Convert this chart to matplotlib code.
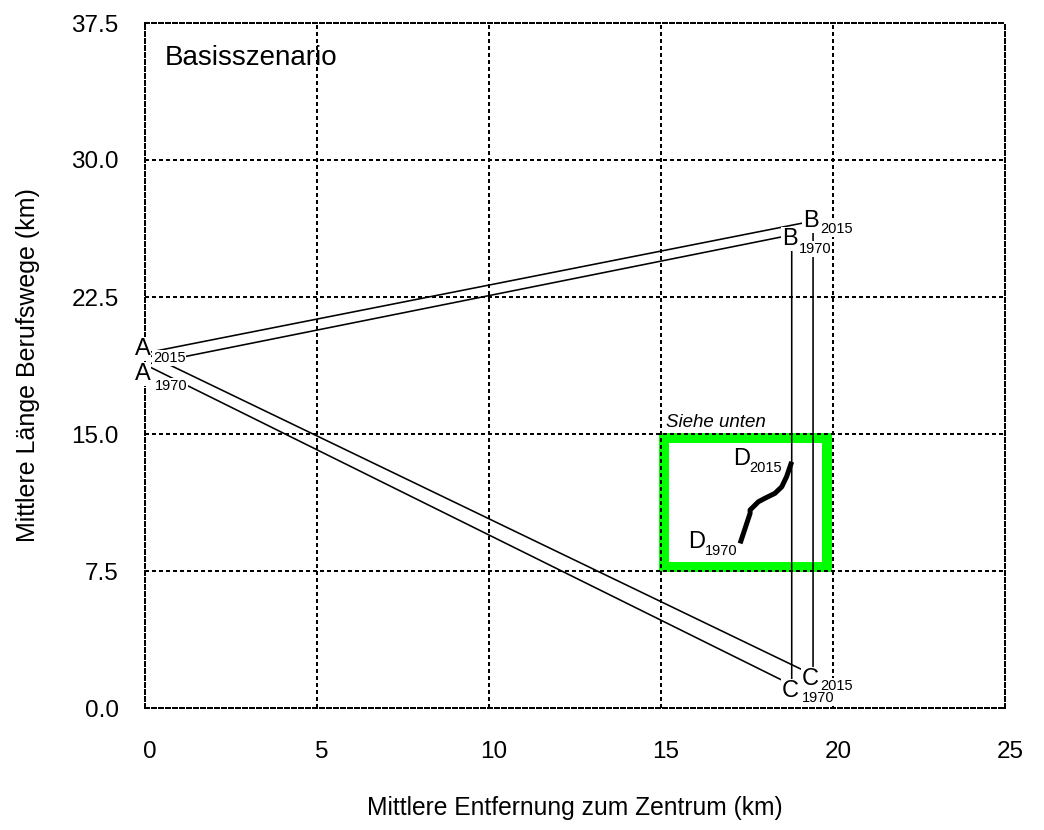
import matplotlib
matplotlib.use("Agg")
import matplotlib.pyplot as plt
from matplotlib.patches import Rectangle
from matplotlib.transforms import ScaledTranslation

plt.rcParams['font.family'] = ['Liberation Sans', 'DejaVu Sans']

# ---- data ----
years = ["1970", "2015"]
# triangle vertices A, B, C per year (x = mean distance to centre, y = mean commute length)
tri_x_1970 = [0.0, 18.8, 18.8]
tri_y_1970 = [18.8, 25.9, 1.26]
tri_x_2015 = [0.0, 19.42, 19.42]
tri_y_2015 = [19.43, 26.66, 1.81]
vertex_names = ["A", "B", "C"]

# D path from 1970 to 2015
d_x = [17.30, 17.59, 17.59, 17.83, 18.02, 18.31, 18.51, 18.65, 18.80]
d_y = [9.01, 10.66, 10.84, 11.29, 11.48, 11.75, 12.11, 12.66, 13.48]

# zoom box ("Siehe unten")
box_x = [15.1, 19.82]
box_y = [7.72, 14.78]

x_ticks = [0, 5, 10, 15, 20, 25]
y_ticks = [0.0, 7.5, 15.0, 22.5, 30.0, 37.5]
x_ticklabels = ["0", "5", "10", "15", "20", "25"]
y_ticklabels = ["0.0", "7.5", "15.0", "22.5", "30.0", "37.5"]

# ---- figure ----
W, H = 1044, 830
fig = plt.figure(figsize=(W / 100, H / 100), dpi=100)
ax = fig.add_axes([145 / W, 1 - 708 / H, 860 / W, 685 / H])
ax.set_xlim(0, 25)
ax.set_ylim(0, 37.5)

dot = (0, (1.5, 1.5))
ax.set_xticks(x_ticks)
ax.set_yticks(y_ticks)
ax.set_xticklabels(x_ticklabels)
ax.set_yticklabels(y_ticklabels)
ax.tick_params(length=0, labelsize=17.5)
ax.tick_params(axis='x', pad=24)
ax.tick_params(axis='y', pad=19)
for lab in ax.get_xticklabels():
    lab.set_transform(lab.get_transform() + ScaledTranslation(5 / 100, 0, fig.dpi_scale_trans))
ax.grid(True, color='black', linestyle=dot, linewidth=1.5, zorder=1.5, antialiased=False)
ax.set_axisbelow('line')
for sp in ax.spines.values():
    sp.set_linestyle(dot)
    sp.set_linewidth(1.5)
    sp.set_antialiased(False)

# green zoom box
rect = Rectangle((box_x[0], box_y[0]), box_x[1] - box_x[0], box_y[1] - box_y[0],
                 fill=False, edgecolor='#00FF00', linewidth=7.2, joinstyle='miter', zorder=1)
ax.add_patch(rect)
ax.text(box_x[0] + 0.05, box_y[1] + 0.6, "Siehe unten", fontsize=13.5, style='italic',
        ha='left', va='baseline', zorder=6)

# triangles
for tx, ty in [(tri_x_1970, tri_y_1970), (tri_x_2015, tri_y_2015)]:
    ax.plot(tx + [tx[0]], ty + [ty[0]], color='black', linewidth=1.15, zorder=2,
            solid_joinstyle='miter')

# D path
ax.plot(d_x, d_y, color='black', linewidth=3.6, zorder=3, solid_capstyle='butt')

# labels: letter offset (px right, px down) relative to point
bb = dict(facecolor='white', edgecolor='none', pad=0.5)
px = 0.72  # points per pixel


def label(x, y, letter, sub, dx, dy, sdx, sdy, z):
    ax.annotate(letter, (x, y), xytext=(dx * px, -dy * px), textcoords='offset points',
                fontsize=17, ha='left', va='baseline', bbox=bb, zorder=z)
    ax.annotate(sub, (x, y), xytext=(sdx * px, -sdy * px), textcoords='offset points',
                fontsize=10.5, ha='left', va='baseline', bbox=bb, zorder=z)


letter_off_1970 = [(-10, 15.5, 10, 25.5), (-10, 10, 7, 18), (-10, 12, 10, 17)]
letter_off_2015 = [(-10, 2, 8, 9), (-10, 6, 7, 12), (-11, 10, 7, 15)]
for i, n in enumerate(vertex_names):
    label(tri_x_2015[i], tri_y_2015[i], n, years[1], *letter_off_2015[i], z=5)
    label(tri_x_1970[i], tri_y_1970[i], n, years[0], *letter_off_1970[i], z=6)
label(d_x[0], d_y[0], "D", years[0], -52, 5, -35, 12, z=6)
label(d_x[-1], d_y[-1], "D", years[1], -59, 3, -42, 10, z=6)

ax.text(20 / 860, 1 - 42 / 685, "Basisszenario", transform=ax.transAxes, fontsize=20,
        ha='left', va='baseline')

ax.set_xlabel("Mittlere Entfernung zum Zentrum (km)", fontsize=17.7)
ax.set_ylabel("Mittlere Länge Berufswege (km)", fontsize=18)
ax.xaxis.set_label_coords(0.5, (708 - 808) / 685)
ax.xaxis.label.set_va('center')
ax.yaxis.set_label_coords((28 - 145) / 860, 0.5)
ax.yaxis.label.set_va('center')

fig.savefig("out.png", dpi=100, facecolor='white')
